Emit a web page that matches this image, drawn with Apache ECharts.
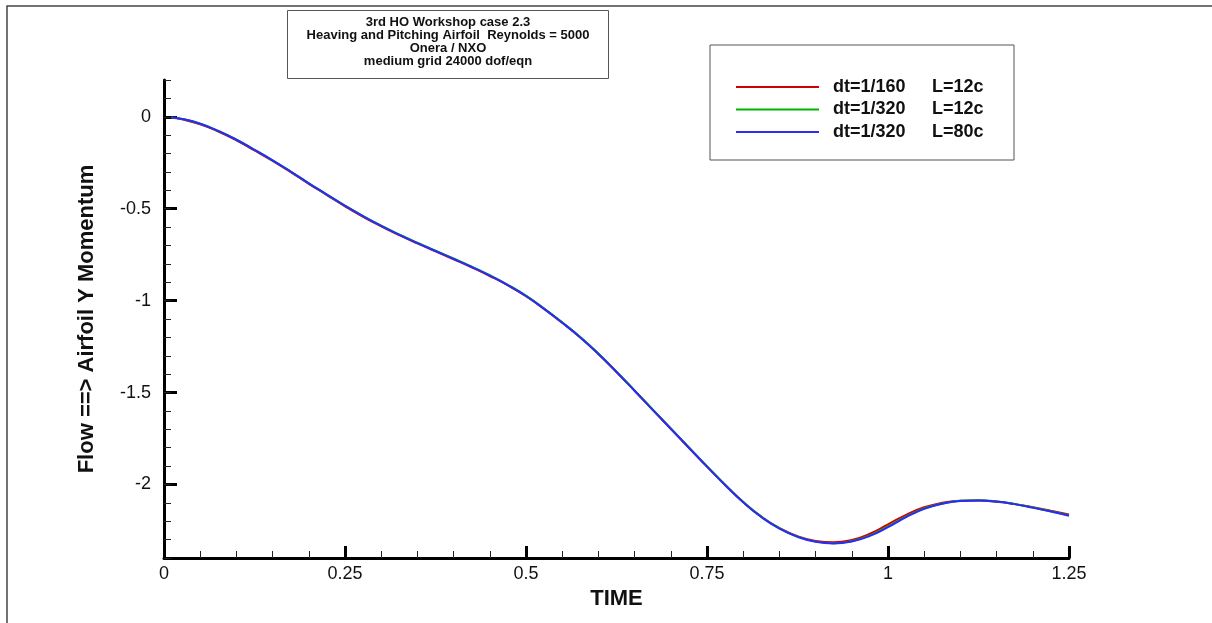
<!DOCTYPE html>
<html>
<head>
<meta charset="utf-8">
<script src="https://cdn.jsdelivr.net/npm/echarts@6/dist/echarts.min.js"></script>
<style>html,body{margin:0;padding:0;background:#fff;}#c{width:1212px;height:623px;}</style>
</head>
<body>
<div id="c"></div>
<script>
const times = [0.01, 0.025, 0.05, 0.075, 0.1, 0.125, 0.15, 0.175, 0.2, 0.225, 0.25, 0.275, 0.3, 0.325, 0.35, 0.375, 0.4, 0.425, 0.45, 0.475, 0.5, 0.525, 0.55, 0.575, 0.6, 0.625, 0.65, 0.675, 0.7, 0.725, 0.75, 0.775, 0.8, 0.825, 0.85, 0.875, 0.9, 0.925, 0.95, 0.975, 1.0, 1.025, 1.05, 1.075, 1.1, 1.125, 1.15, 1.175, 1.2, 1.225, 1.25];
const blueL80 = [-0.004, -0.012, -0.038, -0.077, -0.125, -0.18, -0.237, -0.298, -0.362, -0.423, -0.484, -0.541, -0.594, -0.642, -0.687, -0.73, -0.773, -0.817, -0.864, -0.916, -0.975, -1.045, -1.12, -1.20, -1.29, -1.388, -1.49, -1.594, -1.697, -1.80, -1.903, -2.003, -2.097, -2.177, -2.24, -2.285, -2.312, -2.321, -2.31, -2.28, -2.232, -2.178, -2.133, -2.105, -2.09, -2.087, -2.093, -2.107, -2.126, -2.147, -2.17];
const greenL12 = [-0.004, -0.012, -0.038, -0.077, -0.125, -0.18, -0.237, -0.298, -0.362, -0.423, -0.483, -0.54, -0.592, -0.64, -0.685, -0.728, -0.771, -0.815, -0.862, -0.914, -0.973, -1.043, -1.118, -1.198, -1.288, -1.386, -1.488, -1.592, -1.695, -1.798, -1.901, -2.001, -2.095, -2.175, -2.238, -2.284, -2.311, -2.32, -2.308, -2.277, -2.228, -2.175, -2.131, -2.104, -2.089, -2.086, -2.092, -2.106, -2.125, -2.146, -2.168];
const redDt160 = [-0.005, -0.014, -0.041, -0.08, -0.128, -0.183, -0.24, -0.301, -0.365, -0.426, -0.487, -0.544, -0.596, -0.644, -0.689, -0.732, -0.775, -0.819, -0.866, -0.917, -0.976, -1.045, -1.12, -1.20, -1.29, -1.388, -1.49, -1.594, -1.697, -1.80, -1.903, -2.003, -2.096, -2.175, -2.237, -2.281, -2.307, -2.315, -2.302, -2.268, -2.217, -2.165, -2.124, -2.1, -2.088, -2.087, -2.094, -2.107, -2.124, -2.143, -2.163];
const seriesNames = ['dt=1/160', 'dt=1/320', 'dt=1/320'];
const seriesLengths = ['L=12c', 'L=12c', 'L=80c'];
const xTicks = [0, 0.25, 0.5, 0.75, 1, 1.25];
const yTicks = [0, -0.5, -1, -1.5, -2];

const FONT = 'Arial, "Liberation Sans", sans-serif';
const pair = (arr) => times.map((t, i) => [t, arr[i]]);
const labels = seriesNames.map((n, i) => n + '|' + seriesLengths[i]);
const colors = ['#d00000', '#00b400', '#2a2aff'];
const values = [redDt160, greenL12, blueL80];

const chart = echarts.init(document.getElementById('c'), null, {renderer: 'canvas'});
chart.setOption({
  backgroundColor: '#fff',
  animation: false,
  graphic: [{
    type: 'rect', silent: true, z: -10,
    shape: {x: 7, y: 6, width: 1400, height: 1000},
    style: {fill: null, stroke: '#444', lineWidth: 1.5}
  }],
  title: {
    left: 287, top: 10,
    padding: [6, 11, 11, 11],
    borderColor: '#555', borderWidth: 1, backgroundColor: '#fff',
    text: '{a|3rd HO Workshop case 2.3}\n{a|Heaving and Pitching Airfoil  Reynolds = 5000}\n{a|Onera / NXO}\n{a|medium grid 24000 dof/eqn}',
    textStyle: {
      rich: {a: {width: 300, align: 'center', fontFamily: FONT, fontWeight: 'bold', fontSize: 13, lineHeight: 13, color: '#111'}}
    }
  },
  legend: {
    orient: 'vertical',
    left: 710, top: 45,
    padding: [33, 20, 19, 26],
    itemGap: 4.5,
    itemWidth: 83, itemHeight: 2,
    icon: 'rect',
    borderColor: '#555', borderWidth: 1, backgroundColor: '#fff',
    data: labels,
    formatter: (name) => {
      const p = name.split('|');
      return '{a|' + p[0] + '}{b|' + p[1] + '}';
    },
    textStyle: {
      lineHeight: 18,
      rich: {
        a: {width: 99, padding: [0, 0, 0, 9], fontFamily: FONT, fontWeight: 'bold', fontSize: 18, lineHeight: 18, color: '#111'},
        b: {width: 62, fontFamily: FONT, fontWeight: 'bold', fontSize: 18, lineHeight: 18, color: '#111'}
      }
    }
  },
  grid: {left: 164, right: 143, top: 80, bottom: 65, containLabel: false},
  xAxis: {
    type: 'value', min: 0, max: 1.25, interval: 0.25,
    name: 'TIME', nameLocation: 'middle', nameGap: 24,
    nameTextStyle: {fontFamily: FONT, fontWeight: 'bold', fontSize: 22, color: '#111'},
    axisLine: {onZero: false, lineStyle: {color: '#000', width: 3}},
    axisTick: {inside: true, length: 12, lineStyle: {color: '#000', width: 3}},
    minorTick: {show: true, splitNumber: 5, length: 7, lineStyle: {color: '#222', width: 1}},
    axisLabel: {margin: 7, fontFamily: FONT, fontSize: 18, color: '#111', formatter: (v) => String(v)},
    splitLine: {show: false}
  },
  yAxis: [{
    type: 'value', min: -2.4, max: 0.2, interval: 0.1,
    name: 'Flow ==> Airfoil Y Momentum', nameLocation: 'middle', nameGap: 66, nameRotate: 90,
    nameTextStyle: {fontFamily: FONT, fontWeight: 'bold', fontSize: 22, color: '#111'},
    axisLine: {onZero: false, lineStyle: {color: '#000', width: 3}},
    axisTick: {inside: true, length: 13, customValues: yTicks, lineStyle: {color: '#000', width: 3}},
    axisLabel: {margin: 13, customValues: yTicks, fontFamily: FONT, fontSize: 18, color: '#111', formatter: (v) => String(v)},
    splitLine: {show: false}
  }, {
    type: 'value', min: -2.4, max: 0.2, interval: 0.1, position: 'left',
    axisLine: {show: false, onZero: false},
    axisTick: {inside: true, length: 7, lineStyle: {color: '#222', width: 1}},
    axisLabel: {show: false},
    splitLine: {show: false}
  }],
  series: values.map((arr, i) => ({
    name: labels[i], type: 'line', data: pair(arr), smooth: true,
    showSymbol: false, symbol: 'none', color: colors[i],
    lineStyle: {color: colors[i], width: 2}, z: 3 + i
  }))
});
</script>
</body>
</html>
